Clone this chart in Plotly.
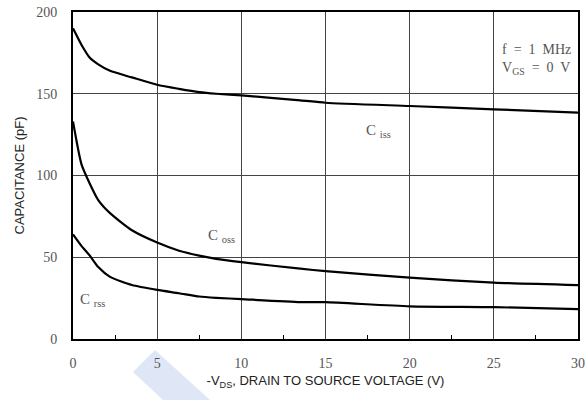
import plotly.graph_objects as go

# Data
vds = [0, 0.5, 1, 1.5, 2.2, 3.5, 5, 6.3, 7.5, 8.5, 10, 13.5, 15, 20, 25, 30]
ciss = [190, 180, 172, 168, 164, 160, 155.5, 153, 151, 150, 149, 146, 144.5, 142.5, 140.5, 138.5]
coss = [133, 107, 95, 85, 77, 66.5, 59, 54, 51, 49, 47, 43, 41.5, 37.5, 34.5, 33]
crss = [64, 57, 51, 44, 38, 33, 30, 28, 26, 25.2, 24.4, 22.6, 22.5, 20, 19.5, 18.3]

x_ticks = [0, 5, 10, 15, 20, 25, 30]
y_ticks = [0, 50, 100, 150, 200]

fig = go.Figure()
for ys in (ciss, coss, crss):
    fig.add_trace(go.Scatter(x=vds, y=ys, mode="lines", line=dict(color="black", width=2.2, shape="spline", smoothing=0.6),
                             showlegend=False, hoverinfo="skip", cliponaxis=True))

serif = "Liberation Serif, DejaVu Serif, serif"
sans = "Liberation Sans, Arial, sans-serif"

fig.update_layout(
    width=585, height=400,
    margin=dict(l=73, r=7, t=12, b=61),
    paper_bgcolor="white", plot_bgcolor="white",
    xaxis=dict(range=[0, 30], tickvals=x_ticks, showgrid=True, gridcolor="#444", gridwidth=1,
               showline=True, linecolor="black", linewidth=2, mirror=True, zeroline=False, automargin=False,
               ticks="", ticklabelstandoff=10, tickfont=dict(family=serif, size=14, color="#555"),
               minor=dict(tickvals=[2.5, 7.5, 12.5, 17.5, 22.5, 27.5], ticks="inside", ticklen=4, tickcolor="black", showgrid=False),
               title=dict(text="-V<sub>DS</sub>, DRAIN TO SOURCE VOLTAGE (V)", font=dict(family=sans, size=13, color="#222"), standoff=6)),
    yaxis=dict(range=[0, 200], tickvals=y_ticks, showgrid=True, gridcolor="#444", gridwidth=1,
               showline=True, linecolor="black", linewidth=2, mirror=True, zeroline=False, automargin=False,
               ticks="", ticklabelstandoff=11, tickfont=dict(family=serif, size=14, color="#555"),
               title=dict(text="CAPACITANCE (pF)", font=dict(family=sans, size=13, color="#222"), standoff=9)),
)

# light blue watermark band
fig.add_shape(type="path", xref="paper", yref="paper",
              path="M 0.1188 -0.1009 L 0.1624 -0.0336 L 0.2713 -0.1865 L 0.1782 -0.1865 Z",
              fillcolor="#dfe7f6", line=dict(width=0), layer="below")

ann_font = dict(family=serif, size=15, color="#555")
def label(x, y, main, sub):
    fig.add_annotation(x=x, y=y, xref="x", yref="y", showarrow=False, xanchor="left",
                       text=f"{main} <sub>{sub}</sub>", font=ann_font)

label(17.3, 127, "C", "iss")
label(7.9, 63, "C", "oss")
label(0.3, 24, "C", "rss")

fig.add_annotation(x=0.99, y=0.915, xref="paper", yref="paper", showarrow=False, xanchor="right", align="left",
                   text="f  =  1  MHz<br>V<sub>GS</sub>  =  0  V", font=dict(family=serif, size=14, color="#555"))

fig.write_html("out.html", config={"displayModeBar": False},
               post_script="document.body.style.margin='0';document.body.style.overflow='hidden';")
